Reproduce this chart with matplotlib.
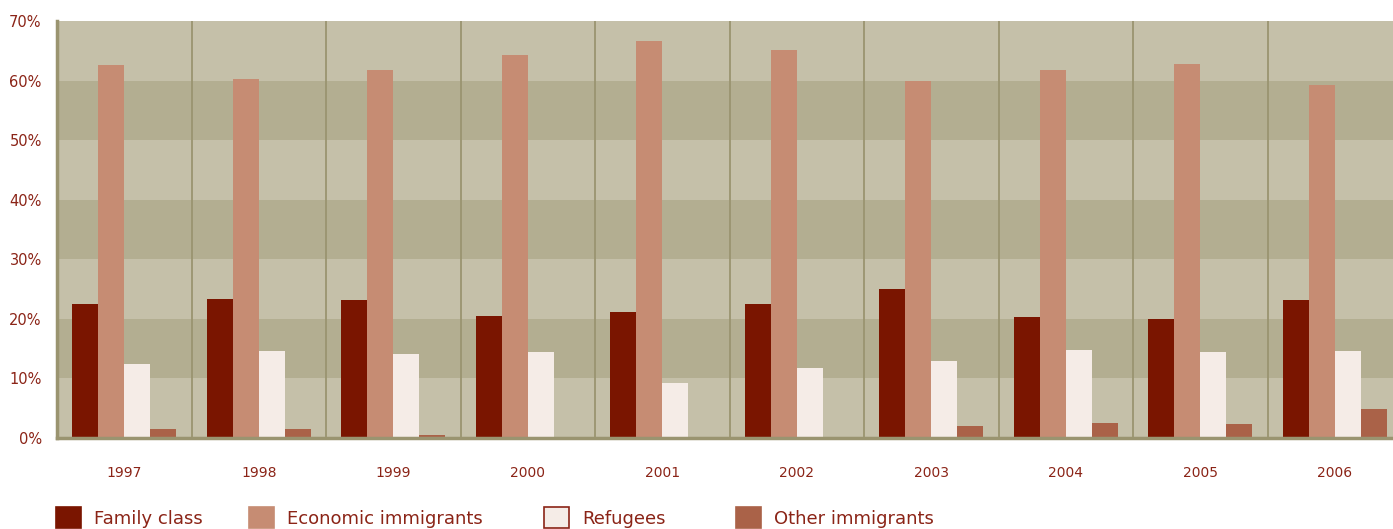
import numpy as np
import matplotlib.pyplot as plt
from matplotlib.patches import Patch

# values (percent of immigrants)
years = ["1997", "1998", "1999", "2000", "2001", "2002", "2003", "2004", "2005", "2006"]
family = [22.5, 23.3, 23.2, 20.5, 21.2, 22.5, 25.0, 20.3, 20.0, 23.2]
economic = [62.6, 60.3, 61.8, 64.3, 66.6, 65.1, 59.9, 61.8, 62.8, 59.3]
refugees = [12.4, 14.6, 14.1, 14.4, 9.2, 11.8, 12.9, 14.8, 14.4, 14.6]
other = [1.5, 1.5, 0.5, 0.2, 0.2, 0.1, 2.0, 2.5, 2.3, 4.9]

series = [family, economic, refugees, other]
names = ["Family class", "Economic immigrants", "Refugees", "Other immigrants"]
colors = ["#7A1500", "#C68C73", "#F5ECE7", "#AA6248"]
txt = "#8B2417"
grid = "#9A9470"

fig = plt.figure(figsize=(13.93, 5.29), dpi=100)
W, H = 1393, 529
ax = fig.add_axes([57 / W, (H - 438) / H, 1345 / W, 417 / H])

# alternating horizontal bands
for k in range(7):
    ax.axhspan(k * 10, (k + 1) * 10, color="#C5C0A9" if k % 2 == 0 else "#B3AE91", lw=0, zorder=0)
for k in range(1, 11):
    ax.axvline(k, color=grid, lw=1.3, zorder=1)

x = np.arange(len(years)) + 0.5
w = 0.193
for i, (vals, c) in enumerate(zip(series, colors)):
    ax.bar(x + (i - 1.5) * w, vals, w, color=c, lw=0, zorder=2)

ax.set_xlim(0, 10)
ax.set_ylim(0, 70)
ax.set_yticks(range(0, 71, 10))
ax.set_yticklabels([f"{v}%" for v in range(0, 71, 10)])
ax.set_xticks(x)
ax.set_xticklabels(years)
ax.tick_params(axis="y", length=0, pad=11, labelsize=10.5, labelcolor=txt)
ax.tick_params(axis="x", length=0, pad=20, labelsize=10, labelcolor=txt)

for s in ["top", "right"]:
    ax.spines[s].set_visible(False)
ax.spines["left"].set_color(grid)
ax.spines["left"].set_linewidth(2.5)
ax.spines["bottom"].set_color(grid)
ax.spines["bottom"].set_linewidth(2.5)
ax.spines["left"].set_zorder(3)
ax.spines["bottom"].set_zorder(3)

# legend entries sit at fixed positions along the bottom
leg_x = [57, 250, 545, 737]
for c, n, lx in zip(colors, names, leg_x):
    h = Patch(facecolor=c, edgecolor=(txt if n == "Refugees" else c), lw=1.2)
    fig.legend([h], [n], loc="lower left", bbox_to_anchor=((lx - 1) / W, 0.002),
               frameon=False, fontsize=13, labelcolor=txt, handlelength=1.38, handleheight=1.38,
               handletextpad=0.72, borderpad=0, borderaxespad=0)

fig.savefig("out.png", dpi=100)
